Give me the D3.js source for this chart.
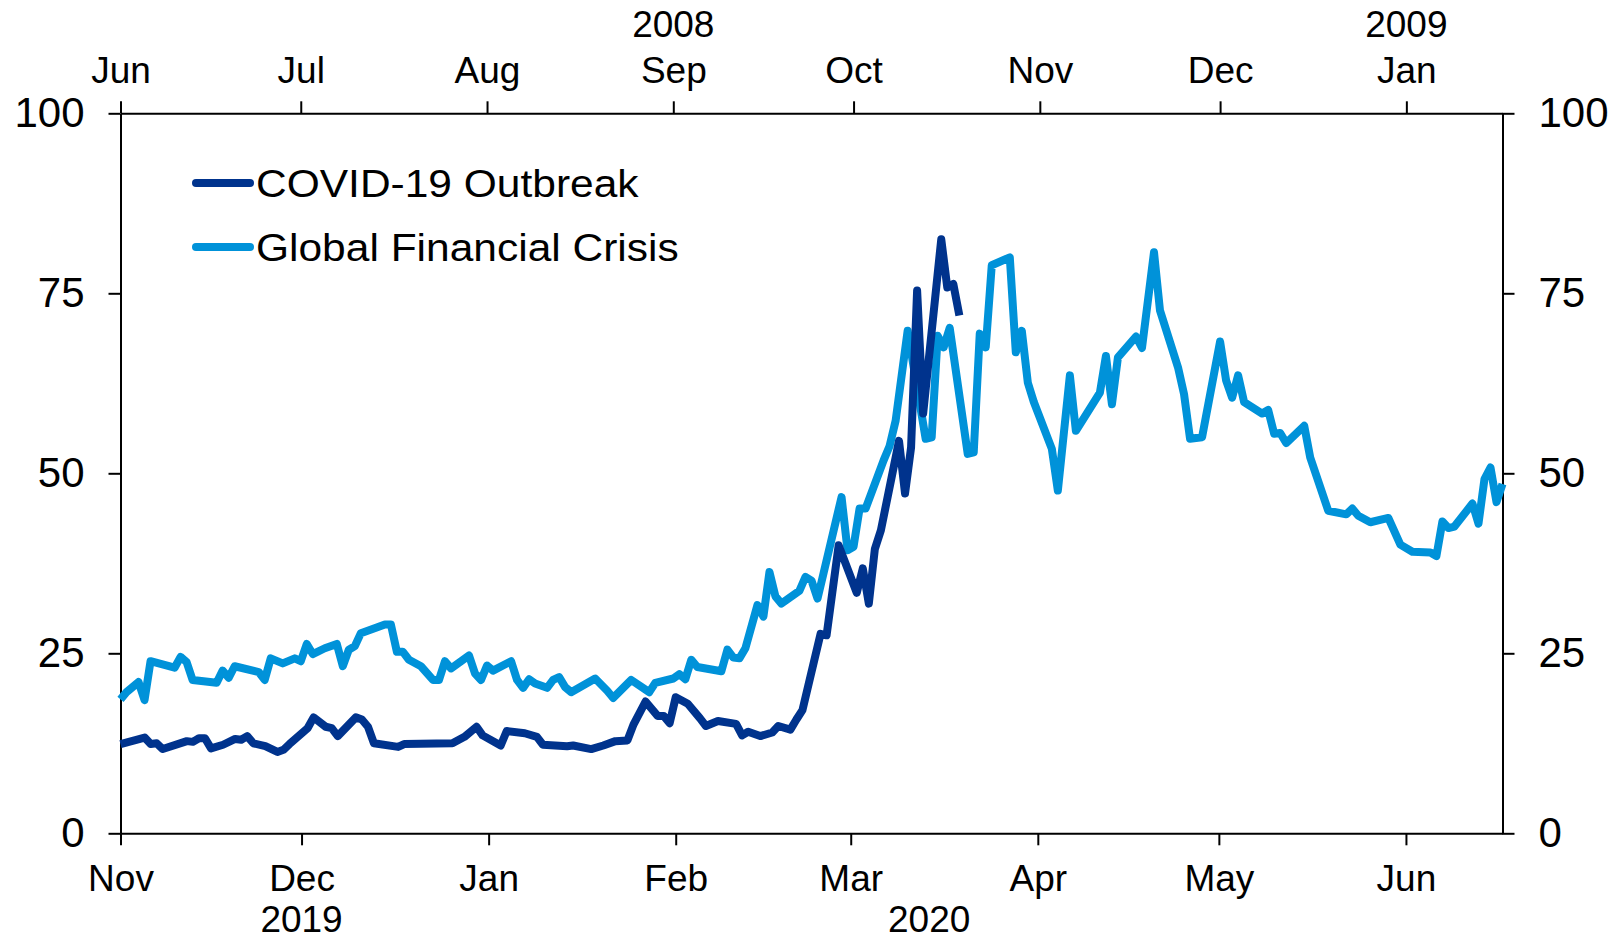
<!DOCTYPE html>
<html lang="en">
<head>
<meta charset="utf-8">
<title>Volatility: COVID-19 vs GFC</title>
<script src="https://cdn.jsdelivr.net/npm/d3@7"></script>
<style>
  body { margin: 0; background: #fff; }
  svg { display: block; font-family: "Liberation Sans", Arial, sans-serif; }
  .axis path, .axis line { stroke: #000; stroke-width: 2; }
  .axis text { font-size: 37px; fill: #000; }
  .y-left text, .y-right text { font-size: 42px; }
  .year { font-size: 38px; }
  .wide { transform-box: fill-box; transform: scaleX(1.09); }
</style>
</head>
<body>
<div id="chart"></div>
<script>
// COVID-19 period (bottom axis, 2019-2020)
var covidDates = ["2019-11-01","2019-11-05","2019-11-06","2019-11-07","2019-11-08","2019-11-12","2019-11-13","2019-11-14",
  "2019-11-15","2019-11-16","2019-11-18","2019-11-20","2019-11-21","2019-11-22","2019-11-23","2019-11-25","2019-11-27",
  "2019-11-28","2019-11-29","2019-12-02","2019-12-03","2019-12-05","2019-12-06","2019-12-07","2019-12-10","2019-12-11",
  "2019-12-12","2019-12-13","2019-12-17","2019-12-18","2019-12-26","2019-12-28","2019-12-30","2019-12-31","2020-01-03",
  "2020-01-04","2020-01-07","2020-01-09","2020-01-10","2020-01-14","2020-01-15","2020-01-18","2020-01-20","2020-01-22",
  "2020-01-24","2020-01-25","2020-01-27","2020-01-29","2020-01-30","2020-01-31","2020-02-01","2020-02-03","2020-02-05",
  "2020-02-06","2020-02-08","2020-02-11","2020-02-12","2020-02-13","2020-02-15","2020-02-17","2020-02-18","2020-02-20",
  "2020-02-21","2020-02-22","2020-02-25","2020-02-26","2020-02-28","2020-03-02","2020-03-03","2020-03-04","2020-03-05",
  "2020-03-06","2020-03-09","2020-03-10","2020-03-11","2020-03-12","2020-03-13","2020-03-16","2020-03-17","2020-03-18",
  "2020-03-19"];
var covidValues = [12.4,13.3,12.4,12.5,11.7,12.8,12.7,13.2,
  13.2,11.8,12.3,13.1,13.0,13.5,12.5,12.1,11.3,
  11.6,12.4,14.6,16.1,14.8,14.6,13.5,16.1,15.8,
  14.8,12.5,12.0,12.4,12.5,13.4,14.8,13.6,12.2,
  14.2,13.9,13.4,12.3,12.1,12.2,11.7,12.2,12.8,
  12.9,15.1,18.3,16.3,16.3,15.3,18.9,18.0,16.0,
  14.9,15.6,15.2,13.6,14.1,13.5,14.0,14.9,14.4,
  15.8,17.1,27.7,27.5,40.0,33.4,36.8,31.9,39.5,
  42.1,54.5,47.2,53.6,75.4,58.3,82.5,75.8,76.3,
  71.9];

// Global Financial Crisis period (top axis, 2008-2009)
var gfcDates = ["2008-06-01","2008-06-02","2008-06-04","2008-06-05","2008-06-06","2008-06-10","2008-06-11","2008-06-12",
  "2008-06-13","2008-06-17","2008-06-18","2008-06-19","2008-06-20","2008-06-24","2008-06-25","2008-06-26","2008-06-28",
  "2008-06-30","2008-07-01","2008-07-02","2008-07-03","2008-07-05","2008-07-07","2008-07-08","2008-07-09","2008-07-10",
  "2008-07-11","2008-07-15","2008-07-16","2008-07-17","2008-07-18","2008-07-19","2008-07-21","2008-07-23","2008-07-24",
  "2008-07-25","2008-07-26","2008-07-29","2008-07-30","2008-07-31","2008-08-01","2008-08-02","2008-08-05","2008-08-06",
  "2008-08-07","2008-08-08","2008-08-09","2008-08-11","2008-08-12","2008-08-13","2008-08-14","2008-08-15","2008-08-19",
  "2008-08-21","2008-08-22","2008-08-25","2008-08-28","2008-08-29","2008-09-01","2008-09-02","2008-09-03","2008-09-04",
  "2008-09-05","2008-09-09","2008-09-10","2008-09-11","2008-09-12","2008-09-13","2008-09-15","2008-09-16","2008-09-17",
  "2008-09-18","2008-09-19","2008-09-22","2008-09-23","2008-09-24","2008-09-25","2008-09-26","2008-09-29","2008-09-30",
  "2008-10-01","2008-10-02","2008-10-03","2008-10-06","2008-10-07","2008-10-08","2008-10-10","2008-10-13","2008-10-14",
  "2008-10-15","2008-10-16","2008-10-17","2008-10-20","2008-10-21","2008-10-22","2008-10-23","2008-10-24","2008-10-27",
  "2008-10-28","2008-10-29","2008-10-30","2008-10-31","2008-11-03","2008-11-04","2008-11-06","2008-11-07","2008-11-11",
  "2008-11-12","2008-11-13","2008-11-14","2008-11-17","2008-11-18","2008-11-20","2008-11-21","2008-11-24","2008-11-25",
  "2008-11-26","2008-11-28","2008-12-01","2008-12-02","2008-12-03","2008-12-04","2008-12-05","2008-12-08","2008-12-09",
  "2008-12-10","2008-12-11","2008-12-12","2008-12-15","2008-12-16","2008-12-19","2008-12-22","2008-12-23","2008-12-24",
  "2008-12-26","2008-12-29","2008-12-31","2009-01-02","2009-01-05","2009-01-06","2009-01-07","2009-01-08","2009-01-09",
  "2009-01-12","2009-01-13","2009-01-14","2009-01-15","2009-01-16","2009-01-17"];
var gfcValues = [18.6,19.6,21.0,18.5,23.9,23.0,24.5,23.8,
  21.3,20.9,22.6,21.6,23.2,22.4,21.3,24.3,23.6,
  24.3,23.9,26.3,24.9,25.7,26.3,23.2,25.5,26.0,
  27.8,29.0,29.0,25.2,25.2,24.1,23.2,21.3,21.3,
  23.9,22.9,24.7,22.2,21.3,23.3,22.6,23.9,21.3,
  20.2,21.4,20.8,20.2,21.3,21.7,20.3,19.6,21.5,
  19.8,18.8,21.3,19.6,20.9,21.5,22.1,21.4,24.1,
  23.1,22.5,25.5,24.4,24.3,25.7,31.7,30.1,36.3,
  32.9,31.9,33.7,35.6,35.1,32.6,36.1,46.7,39.3,
  39.8,45.1,45.1,51.8,53.8,57.3,69.8,54.8,55.0,
  69.1,67.5,70.2,52.7,52.9,69.4,67.5,78.9,80.0,
  66.8,69.8,62.6,59.9,53.4,47.6,63.6,55.9,61.2,
  66.3,59.6,66.1,69.0,67.4,80.7,72.6,64.7,61.0,
  54.8,55.0,68.3,62.9,60.5,63.6,59.9,58.3,58.8,
  55.5,55.6,54.2,56.6,52.2,44.8,44.3,45.1,44.1,
  43.2,43.8,40.1,39.1,39.0,38.5,43.3,42.4,42.6,
  45.8,43.0,49.2,50.8,46.0,48.5];

var yTicks = [0, 25, 50, 75, 100];
var topYears = ["2008", "2009"];
var topYearAt = ["2008-09-01", "2009-01-01"];
var bottomYears = ["2019", "2020"];
var bottomYearAt = ["2019-12-01", "2020-03-14"];
var seriesNames = ["COVID-19 Outbreak", "Global Financial Crisis"];
var seriesColors = ["#00338d", "#0092d9"];

// Layout (plot box edges)
var W = 1615, H = 941;
var plotL = 120.5, plotR = 1502.5, plotT = 113.3, plotB = 833.3;
var parse = d3.utcParse("%Y-%m-%d");

var svg = d3.select("#chart").append("svg")
  .attr("width", W)
  .attr("height", H);

// Scales
var xBottom = d3.scaleUtc()
  .domain([parse("2019-11-01"), parse("2020-06-17")])
  .range([plotL, plotR]);
var xTop = d3.scaleUtc()
  .domain([parse("2008-06-01"), parse("2009-01-17")])
  .range([plotL, plotR]);
var y = d3.scaleLinear().domain([0, 100]).range([plotB, plotT]);

var monthFmt = d3.utcFormat("%b");

// Axes
svg.append("g").attr("class", "axis x-bottom")
  .attr("transform", "translate(0," + plotB + ")")
  .call(d3.axisBottom(xBottom).ticks(d3.utcMonth.every(1)).tickFormat(monthFmt)
    .tickSize(12).tickSizeOuter(0).tickPadding(19));

svg.append("g").attr("class", "axis x-top")
  .attr("transform", "translate(0," + plotT + ")")
  .call(d3.axisTop(xTop).ticks(d3.utcMonth.every(1)).tickFormat(monthFmt)
    .tickSize(12).tickSizeOuter(0).tickPadding(18));

svg.append("g").attr("class", "axis y-left")
  .attr("transform", "translate(" + plotL + ",0)")
  .call(d3.axisLeft(y).tickValues(yTicks).tickSize(12).tickSizeOuter(0).tickPadding(24));

svg.append("g").attr("class", "axis y-right")
  .attr("transform", "translate(" + plotR + ",0)")
  .call(d3.axisRight(y).tickValues(yTicks).tickSize(12).tickSizeOuter(0).tickPadding(24));

// year labels
svg.append("g").attr("class", "axis").selectAll("text")
  .data(topYears)
  .enter().append("text")
  .attr("class", "year")
  .attr("x", function(d, i) { return xTop(parse(topYearAt[i])); })
  .attr("y", 37)
  .attr("text-anchor", "middle")
  .text(function(d) { return d; });

svg.append("g").attr("class", "axis").selectAll("text")
  .data(bottomYears)
  .enter().append("text")
  .attr("class", "year")
  .attr("x", function(d, i) { return xBottom(parse(bottomYearAt[i])); })
  .attr("y", 932)
  .attr("text-anchor", "middle")
  .text(function(d) { return d; });

// Lines
var gfc = gfcDates.map(function(d, i) { return { date: parse(d), value: gfcValues[i] }; });
var covid = covidDates.map(function(d, i) { return { date: parse(d), value: covidValues[i] }; });

var lineTop = d3.line()
  .x(function(d) { return xTop(d.date); })
  .y(function(d) { return y(d.value); });
var lineBottom = d3.line()
  .x(function(d) { return xBottom(d.date); })
  .y(function(d) { return y(d.value); });

svg.append("path").datum(gfc)
  .attr("d", lineTop)
  .attr("fill", "none")
  .attr("stroke", seriesColors[1])
  .attr("stroke-width", 8)
  .attr("stroke-linejoin", "round");

svg.append("path").datum(covid)
  .attr("d", lineBottom)
  .attr("fill", "none")
  .attr("stroke", seriesColors[0])
  .attr("stroke-width", 8)
  .attr("stroke-linejoin", "round");

// Legend
var legend = svg.append("g").attr("transform", "translate(196,183)");
var item = legend.selectAll("g")
  .data(seriesNames)
  .enter().append("g")
  .attr("transform", function(d, i) { return "translate(0," + (i * 64) + ")"; });
item.append("line")
  .attr("x1", 0).attr("x2", 54)
  .attr("stroke", function(d, i) { return seriesColors[i]; })
  .attr("stroke-width", 8)
  .attr("stroke-linecap", "round");
item.append("text")
  .attr("x", 60)
  .attr("y", 14)
  .attr("class", "wide")
  .style("transform-origin", "left")
  .style("font-size", "39px")
  .text(function(d) { return d; });
</script>
</body>
</html>
